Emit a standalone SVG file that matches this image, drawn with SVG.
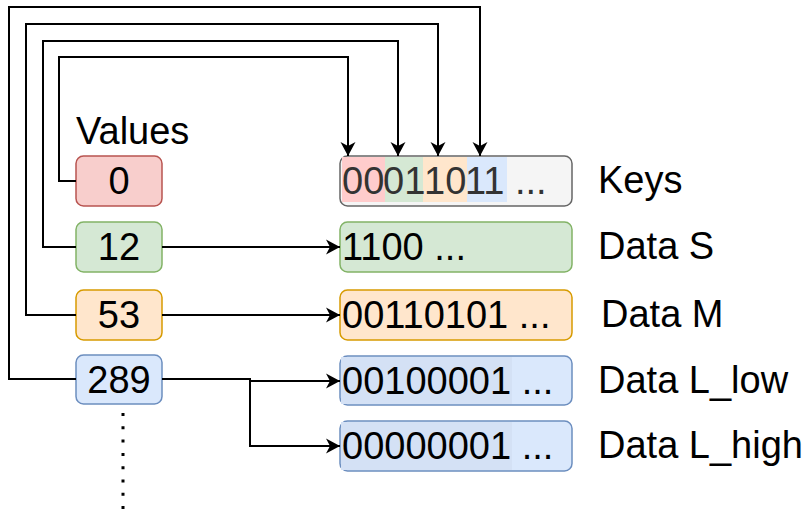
<svg xmlns="http://www.w3.org/2000/svg" width="803" height="510" viewBox="0 0 803 510">
<style>
text{font-family:"Liberation Sans",Arial,sans-serif;font-size:38px;fill:#000}
.box{stroke-width:1.5}
.red{fill:#f8cecc;stroke:#b85450}
.green{fill:#d5e8d4;stroke:#82b366}
.orange{fill:#ffe6cc;stroke:#d79b00}
.blue{fill:#dae8fc;stroke:#6c8ebf}
.gray{fill:#f5f5f5;stroke:#666666}
.conn{fill:none;stroke:#000;stroke-width:2}
.mid{text-anchor:middle}
</style>
<defs>
<marker id="arr" markerUnits="userSpaceOnUse" markerWidth="16" markerHeight="16" viewBox="0 0 16 16" refX="14" refY="8" orient="auto">
<path d="M0,0.5 L14,8 L0,15.5 L4,8 z" fill="#000"/>
</marker>
</defs>

<text x="76" y="144">Values</text>

<g id="v0"><rect class="box red" x="76" y="156" width="86" height="50" rx="7.5"/><text class="mid" x="119" y="194">0</text></g>
<g id="v12"><rect class="box green" x="76" y="222" width="86" height="50" rx="7.5"/><text class="mid" x="119" y="260">12</text></g>
<g id="v53"><rect class="box orange" x="76" y="290" width="86" height="50" rx="7.5"/><text class="mid" x="119" y="328">53</text></g>
<g id="v289"><rect class="box blue" x="76" y="355" width="86" height="49" rx="7.5"/><text class="mid" x="119" y="393">289</text></g>

<g id="keys">
<rect class="box gray" x="340" y="156" width="232" height="50" rx="7.5"/>
<rect x="342" y="157" width="43" height="45" fill="#ffcccc"/>
<rect x="385" y="157" width="38" height="45" fill="#d5e8d4"/>
<rect x="423" y="157" width="44" height="45" fill="#ffe6cc"/>
<rect x="467" y="157" width="40" height="45" fill="#dae8fc"/>
<text y="194" style="fill:#333333"><tspan x="342">00</tspan><tspan x="383">01</tspan><tspan x="424">10</tspan><tspan x="465">11 ...</tspan></text>
</g>
<g id="dataS"><rect class="box green" x="340" y="222" width="232" height="50" rx="7.5"/><text x="342" y="260">1100 ...</text></g>
<g id="dataM"><rect class="box orange" x="340" y="290" width="232" height="50" rx="7.5"/><text x="342" y="328">00110101 ...</text></g>
<g id="dataLlow"><rect class="box blue" x="340" y="356" width="232" height="49" rx="7.5"/><rect x="341" y="357" width="171" height="47" fill="#d4e1f5"/><text x="342" y="394">00100001 ...</text></g>
<g id="dataLhigh"><rect class="box blue" x="340" y="421" width="232" height="50" rx="7.5"/><rect x="341" y="422" width="171" height="48" fill="#d4e1f5"/><text x="342" y="459">00000001 ...</text></g>

<g id="labels">
<text x="598" y="193">Keys</text>
<text x="598" y="259">Data S</text>
<text x="601" y="327">Data M</text>
<text x="598" y="393">Data L_low</text>
<text x="598" y="458">Data L_high</text>
</g>

<g id="connectors">
<path class="conn" d="M76,181 H59 V57 H348 V156" marker-end="url(#arr)"/>
<path class="conn" d="M76,247 H43 V41 H398 V156" marker-end="url(#arr)"/>
<path class="conn" d="M76,315 H26 V24 H438 V156" marker-end="url(#arr)"/>
<path class="conn" d="M76,379 H9 V7 H480 V156" marker-end="url(#arr)"/>
<path class="conn" d="M162,247 H340" marker-end="url(#arr)"/>
<path class="conn" d="M162,315 H340" marker-end="url(#arr)"/>
<path class="conn" d="M162,379 H250 V381 H340" marker-end="url(#arr)"/>
<path class="conn" d="M250,380 V446 H340" marker-end="url(#arr)"/>
<path d="M123,413 V510" fill="none" stroke="#000" stroke-width="3" stroke-dasharray="3 10.3"/>
</g>
</svg>
